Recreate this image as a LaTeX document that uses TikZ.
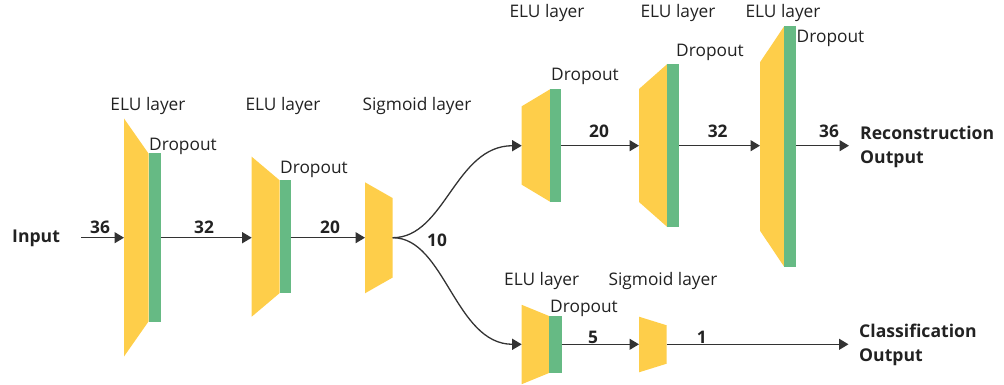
\documentclass[tikz,border=0pt]{standalone}
\usepackage{fontspec}
\setmainfont{Open Sans}
\usetikzlibrary{arrows.meta}
\definecolor{ylw}{RGB}{254,206,74}
\definecolor{grn}{RGB}{102,186,132}
\definecolor{ink}{RGB}{34,34,34}
\definecolor{arr}{RGB}{51,51,51}
% trapezoid: x1, x2, halfL, halfR, yc
\newcommand{\traplayer}[5]{%
  \fill[ylw] (#1,{#5-#3}) -- (#2,{#5-#4}) -- (#2,{#5+#4}) -- (#1,{#5+#3}) -- cycle;}
% dropout bar: x1, x2, half, yc
\newcommand{\dropbar}[4]{%
  \fill[grn] (#1,{#4-#3}) rectangle (#2,{#4+#3});}
\tikzset{
  lbl/.style={font=\fontsize{17.3}{21}\selectfont, text=ink, inner sep=0pt, anchor=base},
  num/.style={font=\fontsize{17.3}{21}\selectfont\bfseries, text=ink, inner sep=0pt, anchor=base},
  outlbl/.style={font=\fontsize{17.6}{21}\selectfont\bfseries, text=ink, inner sep=0pt, anchor=base west},
  conn/.style={draw=arr, line width=1.3pt, -{Triangle[length=9.5pt,width=11pt]}},
}
\begin{document}
\begin{tikzpicture}[x=1pt,y=-1pt]
\useasboundingbox (0,0) rectangle (1004,385);
% encoder
\traplayer{124}{148.5}{119}{84}{237.5}
\dropbar{148.5}{161}{84}{237.5}
\traplayer{251.7}{279.5}{80}{56.5}{236.7}
\dropbar{279.5}{290.7}{56.5}{236.7}
\traplayer{365}{392.7}{55.5}{39.7}{237.8}
% decoder
\traplayer{521.7}{550}{39.2}{56.2}{145.5}
\dropbar{550}{561}{56.2}{145.5}
\traplayer{639}{667.3}{56.5}{81.5}{145.5}
\dropbar{667.3}{679}{81.5}{145.5}
\traplayer{760}{784}{84.2}{120}{146.5}
\dropbar{784}{796}{120}{146.5}
% classifier
\traplayer{521.7}{549.3}{39.7}{28.4}{344.5}
\dropbar{549.3}{561.7}{28.4}{344.5}
\traplayer{639}{666.7}{27.8}{19.2}{344.5}

% connector coordinates
\coordinate (inS) at (81,237.7);
\coordinate (L1in) at (124,237.7);
\coordinate (L1out) at (161,237.7);
\coordinate (L2in) at (251.7,237.7);
\coordinate (L2out) at (290.7,237.7);
\coordinate (Sin) at (365,237.7);
\coordinate (Sout) at (392.7,237.7);
\coordinate (U1in) at (521.7,145.7);
\coordinate (U1out) at (561,145.7);
\coordinate (U2in) at (639,145.7);
\coordinate (U2out) at (679,145.7);
\coordinate (U3in) at (760,145.7);
\coordinate (U3out) at (796,145.7);
\coordinate (recE) at (849,145.7);
\coordinate (C1in) at (521.7,344.3);
\coordinate (C1out) at (561.7,344.3);
\coordinate (C2in) at (639,344.3);
\coordinate (C2out) at (666.7,344.3);
\coordinate (clsE) at (848.5,344.3);

\draw[conn] (inS) -- (L1in);
\draw[conn] (L1out) -- (L2in);
\draw[conn] (L2out) -- (Sin);
\draw[conn] (Sout) .. controls (445,237.7) and (455,145.7) .. (U1in);
\draw[conn] (Sout) .. controls (445,237.7) and (455,344.3) .. (C1in);
\draw[conn] (U1out) -- (U2in);
\draw[conn] (U2out) -- (U3in);
\draw[conn] (U3out) -- (recE);
\draw[conn] (C1out) -- (C2in);
\draw[conn] (C2out) -- (clsE);

% layer labels
\node[lbl] (t1) at (148,111) {ELU layer};
\node[lbl] (d1) at (183,150) {Dropout};
\node[lbl] (t2) at (283,111) {ELU layer};
\node[lbl] (d2) at (314,173) {Dropout};
\node[lbl] (t3) at (417,111) {Sigmoid layer};
\node[lbl] (t4) at (547,18) {ELU layer};
\node[lbl] (d4) at (585,81) {Dropout};
\node[lbl] (t5) at (678,18) {ELU layer};
\node[lbl] (d5) at (710,57) {Dropout};
\node[lbl] (t6) at (783,18) {ELU layer};
\node[lbl] (d6) at (830.5,43) {Dropout};
\node[lbl] (t7) at (541.7,285) {ELU layer};
\node[lbl] (d7) at (584,312) {Dropout};
\node[lbl] (t8) at (663,285) {Sigmoid layer};

% numbers
\node[num] (n1) at (100,233) {36};
\node[num] (n2) at (204,233) {32};
\node[num] (n3) at (330,233) {20};
\node[num] (n4) at (437,246) {10};
\node[num] (n5) at (599,137.7) {20};
\node[num] (n6) at (717.7,137.7) {32};
\node[num] (n7) at (829,137.7) {36};
\node[num] (n8) at (593,343) {5};
\node[num] (n9) at (701.7,343) {1};

% in/out labels
\node[outlbl] (inp) at (12,242) {Input};
\node[outlbl] (rec1) at (860,139.3) {Reconstruction};
\node[outlbl] (rec2) at (860,164) {Output};
\node[outlbl] (cls1) at (859,337.3) {Classification};
\node[outlbl] (cls2) at (859,361.7) {Output};
\end{tikzpicture}
\end{document}
